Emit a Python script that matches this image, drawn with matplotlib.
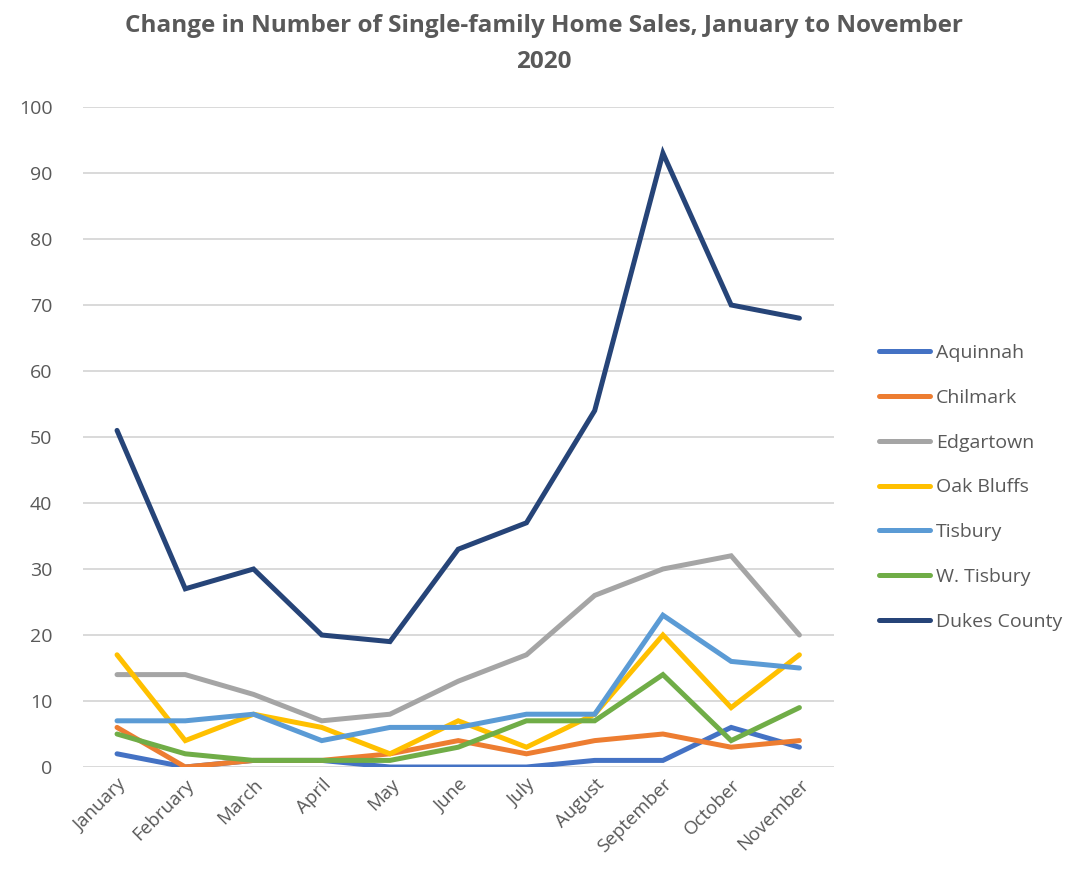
import matplotlib
matplotlib.use("Agg")
import matplotlib.pyplot as plt

months = ["January", "February", "March", "April", "May", "June", "July",
          "August", "September", "October", "November"]
aquinnah = [2, 0, 1, 1, 0, 0, 0, 1, 1, 6, 3]
chilmark = [6, 0, 1, 1, 2, 4, 2, 4, 5, 3, 4]
edgartown = [14, 14, 11, 7, 8, 13, 17, 26, 30, 32, 20]
oak_bluffs = [17, 4, 8, 6, 2, 7, 3, 8, 20, 9, 17]
tisbury = [7, 7, 8, 4, 6, 6, 8, 8, 23, 16, 15]
w_tisbury = [5, 2, 1, 1, 1, 3, 7, 7, 14, 4, 9]
dukes = [51, 27, 30, 20, 19, 33, 37, 54, 93, 70, 68]

series = [
    ("Aquinnah", aquinnah, "#4472C4"),
    ("Chilmark", chilmark, "#ED7D31"),
    ("Edgartown", edgartown, "#A5A5A5"),
    ("Oak Bluffs", oak_bluffs, "#FFC000"),
    ("Tisbury", tisbury, "#5B9BD5"),
    ("W. Tisbury", w_tisbury, "#70AD47"),
    ("Dukes County", dukes, "#264478"),
]

plt.rcParams['font.family'] = ['Open Sans', 'DejaVu Sans']
txt = "#595959"

fig = plt.figure(figsize=(10.91, 8.72), dpi=100)
ax = fig.add_axes([0.076, 0.1204, 0.688, 0.7569])

x = list(range(len(months)))
for name, vals, col in series:
    ax.plot(x, vals, color=col, lw=3.6, label=name, solid_capstyle='round',
            solid_joinstyle='miter')

ax.set_xlim(-0.5, len(months) - 0.5)
ax.set_ylim(0, 100)
ax.set_yticks(range(0, 101, 10))
ax.set_xticks(x)
ax.set_xticklabels(months, rotation=45, ha='right', rotation_mode='anchor',
                   fontsize=13.5, color=txt)
ax.tick_params(axis='y', labelsize=14, labelcolor=txt, length=0, pad=22)
ax.tick_params(axis='x', length=0, pad=6)
ax.grid(axis='y', color='#D9D9D9', lw=1.4)
ax.set_axisbelow(True)
for s in ax.spines.values():
    s.set_visible(False)

fig.suptitle("Change in Number of Single-family Home Sales, January to November\n2020",
             x=0.4985, y=0.984, fontsize=17.5, fontweight='bold', color=txt,
             linespacing=1.65)

leg = fig.legend(loc='center left', bbox_to_anchor=(0.79, 0.441), frameon=False,
                 fontsize=14, labelcolor=txt, handlelength=2.6, handletextpad=0.3,
                 labelspacing=1.38)

fig.savefig("out.png", dpi=100)
